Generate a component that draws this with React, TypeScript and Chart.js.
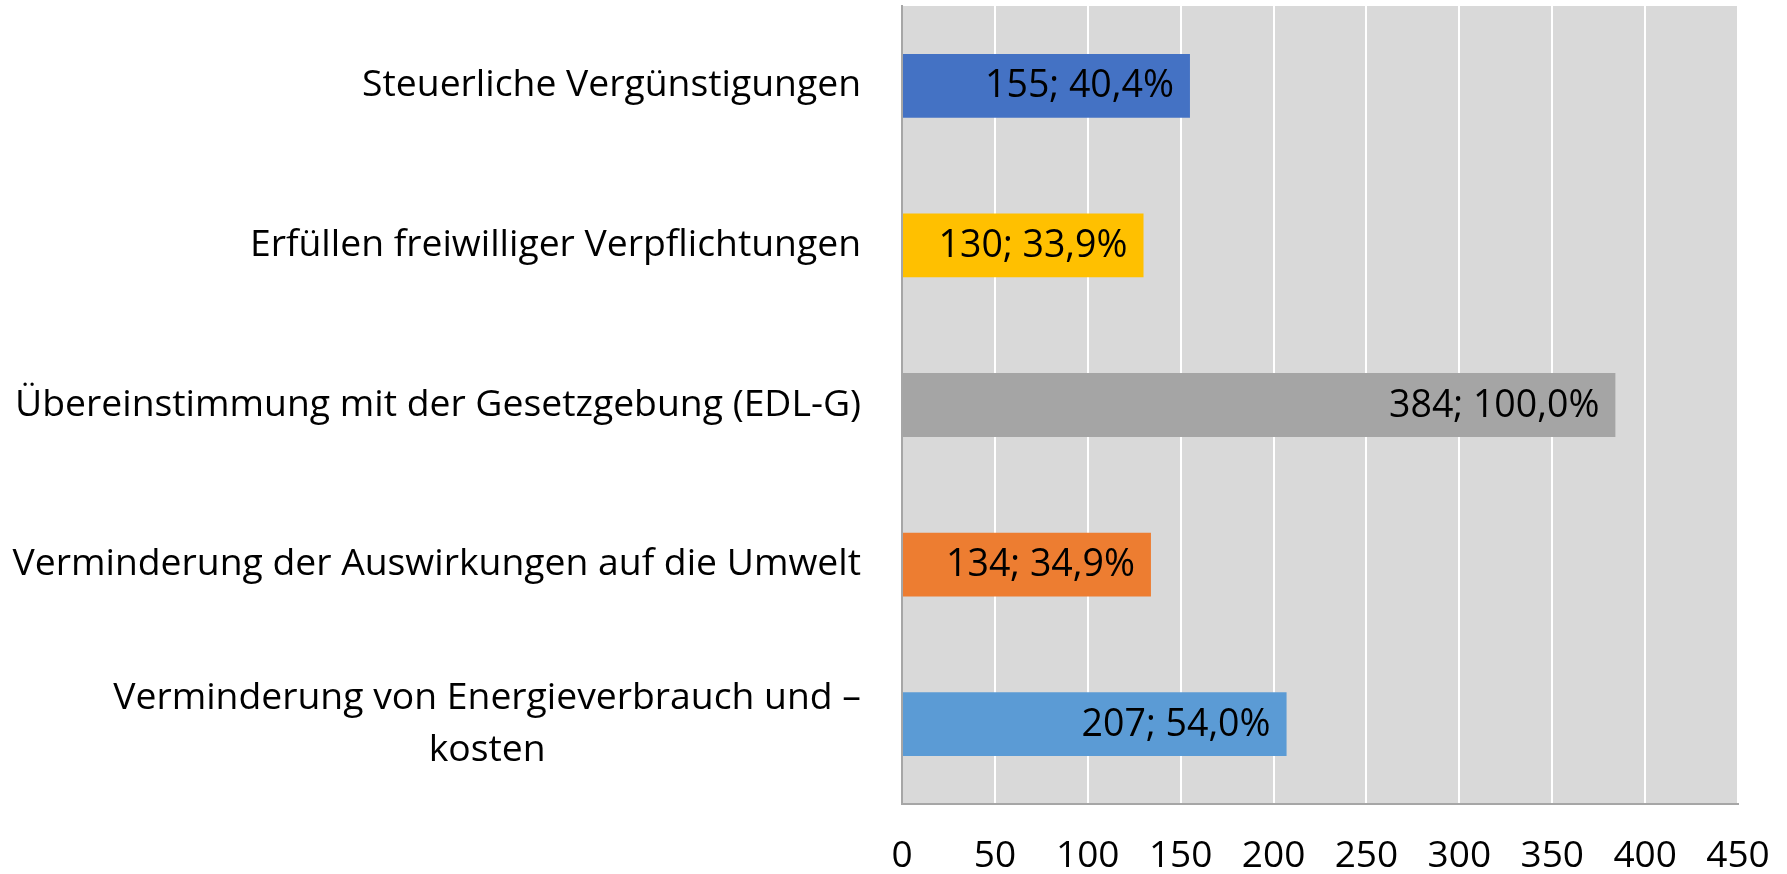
import React, { useEffect, useRef } from "react";
import { Chart, registerables } from "chart.js";

Chart.register(...registerables);

const categories: string[][] = [
  ["Steuerliche Vergünstigungen"],
  ["Erfüllen freiwilliger Verpflichtungen"],
  ["Übereinstimmung mit der Gesetzgebung (EDL-G)"],
  ["Verminderung der Auswirkungen auf die Umwelt"],
  ["Verminderung von Energieverbrauch und –", "kosten"],
];
const values = [155, 130, 384, 134, 207];
const percents = ["40,4%", "33,9%", "100,0%", "34,9%", "54,0%"];
const barColors = ["#4472C4", "#FFC000", "#A5A5A5", "#ED7D31", "#5B9BD5"];
const xMin = 0;
const xMax = 450;
const xStep = 50;

const FONT = "'Open Sans', 'Noto Sans', sans-serif";

export default function App() {
  const ref = useRef<HTMLCanvasElement | null>(null);
  useEffect(() => {
    if (!ref.current) return;
    const bgPlugin = {
      id: "plotBg",
      beforeDraw(chart: any) {
        const { ctx, chartArea } = chart;
        ctx.save();
        ctx.fillStyle = "#D9D9D9";
        ctx.fillRect(chartArea.left, chartArea.top, chartArea.right - chartArea.left, chartArea.bottom - chartArea.top);
        ctx.restore();
      },
    };
    const labelPlugin = {
      id: "customLabels",
      afterDraw(chart: any) {
        const { ctx } = chart;
        const yScale = chart.scales.y;
        ctx.save();
        ctx.font = `37.3px ${FONT}`;
        ctx.fillStyle = "#000000";
        ctx.textBaseline = "middle";
        ctx.textAlign = "center";
        const rightEdge = yScale.right - 41;
        const lh = 52;
        categories.forEach((lines, i) => {
          const yc = yScale.getPixelForTick(i);
          const w = Math.max(...lines.map((l) => ctx.measureText(l).width));
          const cx = rightEdge - w / 2;
          const y0 = yc - ((lines.length - 1) * lh) / 2;
          lines.forEach((l, j) => ctx.fillText(l, cx, y0 + j * lh));
        });
        ctx.font = `37.5px ${FONT}`;
        ctx.textAlign = "right";
        const meta = chart.getDatasetMeta(0);
        meta.data.forEach((bar: any, i: number) => {
          ctx.fillText(`${values[i]}; ${percents[i]}`, bar.x - 16, bar.y + 1);
        });
        ctx.restore();
      },
    };
    const chart = new Chart(ref.current, {
      type: "bar",
      data: {
        labels: categories.map((c) => c.join(" ")),
        datasets: [
          {
            data: values,
            backgroundColor: barColors,
            barPercentage: 0.4,
            categoryPercentage: 1,
          },
        ],
      },
      plugins: [bgPlugin, labelPlugin],
      options: {
        indexAxis: "y",
        animation: false,
        responsive: true,
        maintainAspectRatio: false,
        layout: { padding: { top: 6, right: 49, left: 0, bottom: 0 } },
        plugins: { legend: { display: false }, tooltip: { enabled: false } },
        scales: {
          x: {
            min: xMin,
            max: xMax,
            ticks: {
              stepSize: xStep,
              font: { family: FONT, size: 37 },
              color: "#000000",
              padding: 30,
            },
            grid: { color: "#FFFFFF", lineWidth: 2, drawTicks: false },
            border: { color: "#A6A6A6", width: 2 },
            afterFit(scale: any) {
              scale.height = 70;
              scale.paddingLeft = 0;
              scale.paddingRight = 0;
            },
          },
          y: {
            ticks: { color: "rgba(0,0,0,0)", font: { family: FONT, size: 1 }, padding: 0 },
            grid: { display: false, drawTicks: false },
            border: { color: "#A6A6A6", width: 2 },
            afterFit(scale: any) {
              scale.width = 902;
              scale.paddingTop = 0;
              scale.paddingBottom = 0;
            },
          },
        },
      },
    });
    return () => chart.destroy();
  }, []);
  return (
    <div style={{ position: "fixed", left: 0, top: 0, width: 1787, height: 874, background: "#fff" }}>
      <canvas ref={ref} />
    </div>
  );
}
